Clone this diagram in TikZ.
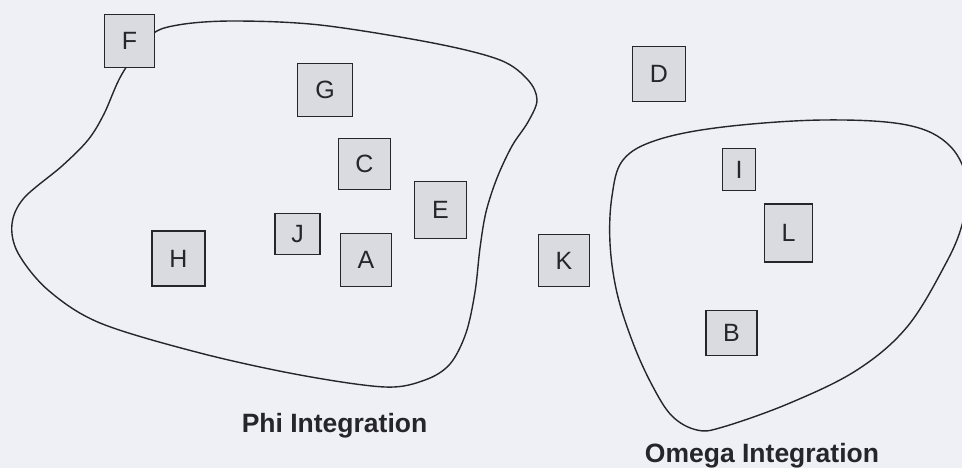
\documentclass[tikz,border=0pt]{standalone}
\usepackage{fontspec}
\setmainfont{Liberation Sans}
\usetikzlibrary{positioning}
\definecolor{paper}{HTML}{EFF0F5}
\definecolor{boxfill}{HTML}{DADBE1}
\definecolor{ink}{HTML}{26262A}

\begin{document}
\begin{tikzpicture}[x=1pt, y=-1pt,
  module/.style 2 args={rectangle, draw=ink, line width=1.8pt, fill=boxfill, inner sep=0pt,
    text=ink, font=\fontsize{25}{25}\selectfont, minimum width=#1pt, minimum height=#2pt},
  blob/.style={draw=ink, line width=1.4pt},
  group label/.style={anchor=base, text=ink, font=\fontsize{26.5}{26.5}\selectfont\bfseries}
]
  \fill[paper] (0,0) rectangle (962,468);
  \clip (0,0) rectangle (962,468);

  % Phi boundary
  \draw[blob] plot[smooth cycle, tension=0.55] coordinates {
    (150,36) (178,25) (233,21) (320,25) (433,43) (500,60) (528,80) (537,100)
    (528,122) (512,146) (497,178) (486,212) (480,248) (475,292) (466,333)
    (450,364) (425,380) (385,387) (300,375) (200,353) (100,323) (48,290)
    (18,253) (12,224) (24,198) (62,166) (88,140) (104,114) (122,74)};
  % Omega boundary
  \draw[blob] plot[smooth cycle, tension=0.6] coordinates {
    (623,160) (657,140) (723,127) (823,120) (907,125) (950,146) (968,185)
    (962,225) (945,265) (907,327) (857,370) (790,403) (723,427) (697,430)
    (672,416) (652,385) (633,343) (617,293) (610,243) (612,196)};

  % components
  \node[module={50}{53}] (f) at (129.5,41)  {F};
  \node[module={55}{53}] (g) at (325,90)    {G};
  \node[module={53}{55}] (d) at (659,74)    {D};
  \node[module={52}{51}] (c) at (364.5,164) {C};
  \node[module={52}{57}] (e) at (440.5,210) {E};
  \node[module={51}{53}] (a) at (366,260)   {A};
  \node[module={45}{41}] (j) at (297.5,234) {J};
  \node[module={53}{55}] (h) at (178.5,258.5) {H};
  \node[module={51}{52}] (k) at (564,260.5) {K};
  \node[module={33}{42}] (i) at (739,169.5) {I};
  \node[module={48}{58}] (l) at (788.5,233) {L};
  \node[module={51}{45}] (b) at (731.5,333) {B};

  % group names
  \node[group label] (phi)   at (334.5,432) {Phi Integration};
  \node[group label] (omega) at (762,462.5) {Omega Integration};
\end{tikzpicture}
\end{document}
